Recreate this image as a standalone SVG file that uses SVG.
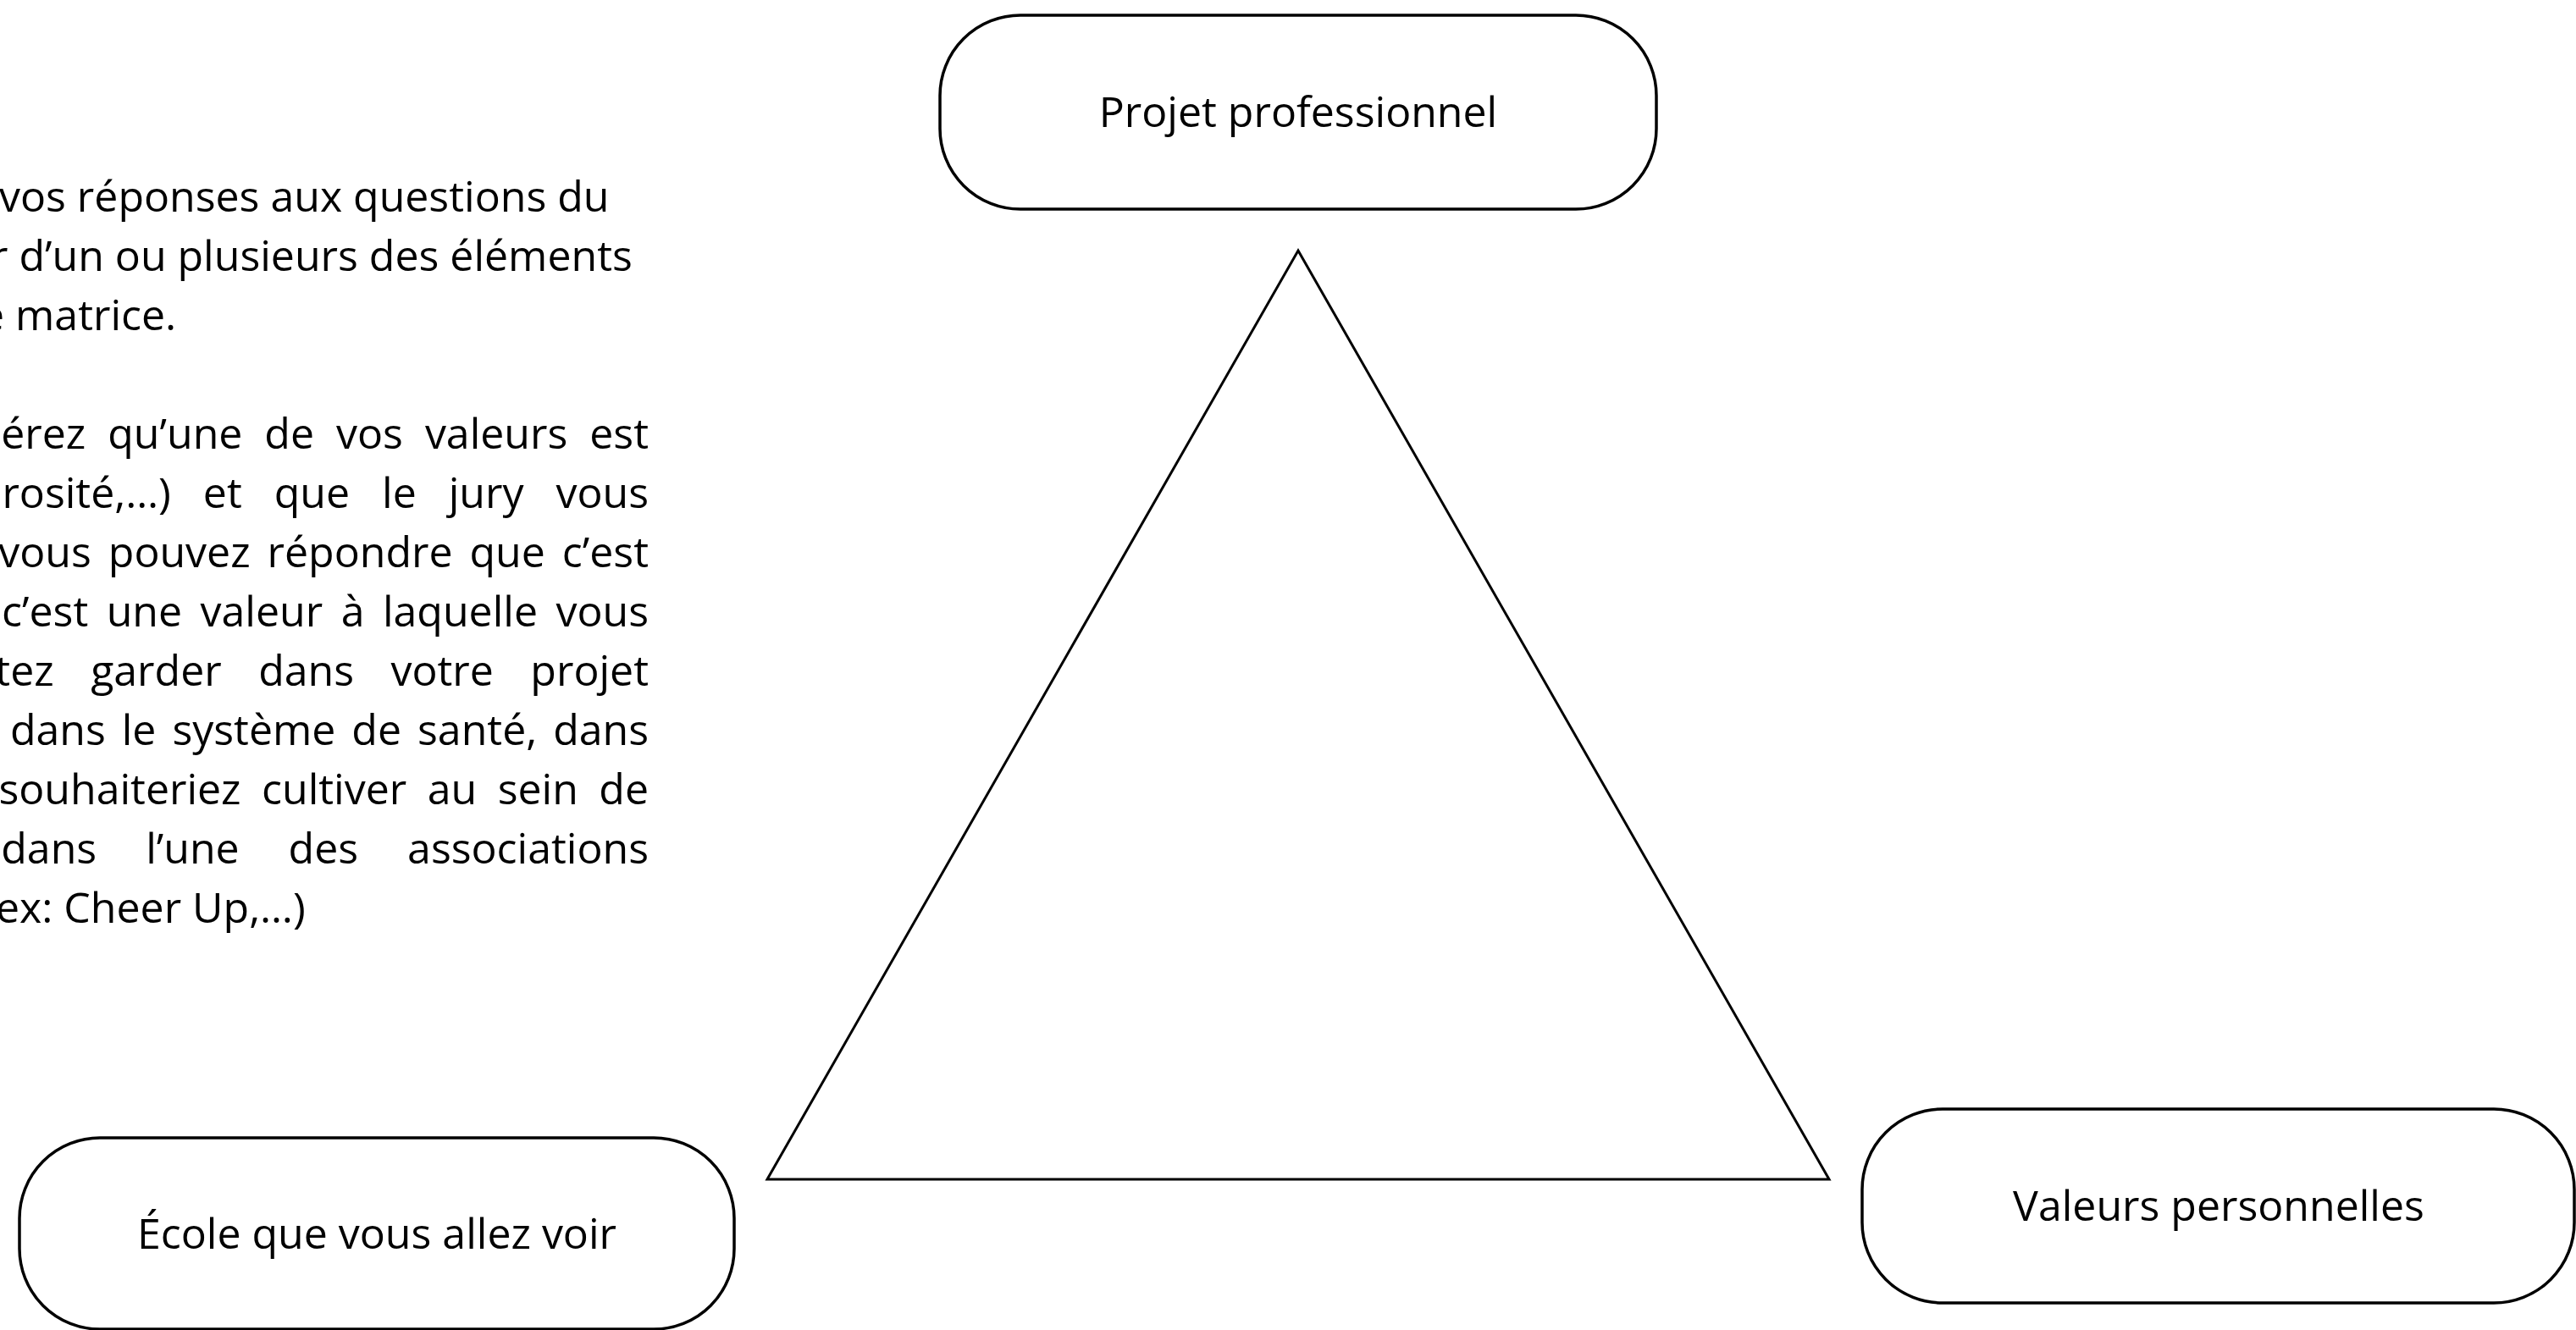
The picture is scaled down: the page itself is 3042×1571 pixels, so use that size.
<svg xmlns="http://www.w3.org/2000/svg" width="3042" height="1571" viewBox="0 0 3042 1571">
<style>
.t{font-family:"Open Sans","Noto Sans","Liberation Sans",sans-serif;font-size:50px;fill:#000}
.j{text-anchor:end}
.c{text-anchor:middle}
.box{fill:#fff;stroke:#000;stroke-width:3.5}
.tri{fill:none;stroke:#000;stroke-width:3;stroke-linejoin:miter}
</style>
<rect width="3042" height="1571" fill="#fff"/>
<g id="texte">
<text class="t" x="-1" y="250">vos réponses aux questions du</text>
<text class="t" x="-11" y="320">r d’un ou plusieurs des éléments</text>
<text class="t" x="-23" y="390">e matrice.</text>
<text class="t j" x="766" y="530" word-spacing="13">érez qu’une de vos valeurs est</text>
<text class="t j" x="766" y="600" word-spacing="25">rosité,…) et que le jury vous</text>
<text class="t j" x="766" y="670" word-spacing="7">vous pouvez répondre que c’est</text>
<text class="t j" x="766" y="740" word-spacing="8.5">c’est une valeur à laquelle vous</text>
<text class="t j" x="766" y="810" word-spacing="30.5">tez garder dans votre projet</text>
<text class="t j" x="766" y="880" word-spacing="6">dans le système de santé, dans</text>
<text class="t j" x="766" y="950" word-spacing="11.5">souhaiteriez cultiver au sein de</text>
<text class="t j" x="766" y="1020" word-spacing="45">dans l’une des associations</text>
<text class="t" x="-5" y="1090">ex: Cheer Up,…)</text>
</g>
<g id="triangle">
<polygon class="tri" points="1533,296 2160,1393 906,1393"/>
</g>
<g id="node-projet">
<rect class="box" x="1110" y="18" width="846" height="229" rx="95" ry="95"/>
<text class="t c" x="1533" y="150">Projet professionnel</text>
</g>
<g id="node-ecole">
<rect class="box" x="23" y="1344" width="844" height="226" rx="95" ry="95"/>
<text class="t c" x="445" y="1475">École que vous allez voir</text>
</g>
<g id="node-valeurs">
<rect class="box" x="2199" y="1310" width="841" height="229" rx="95" ry="95"/>
<text class="t c" x="2620" y="1442">Valeurs personnelles</text>
</g>
<g id="connectors"></g>
</svg>
